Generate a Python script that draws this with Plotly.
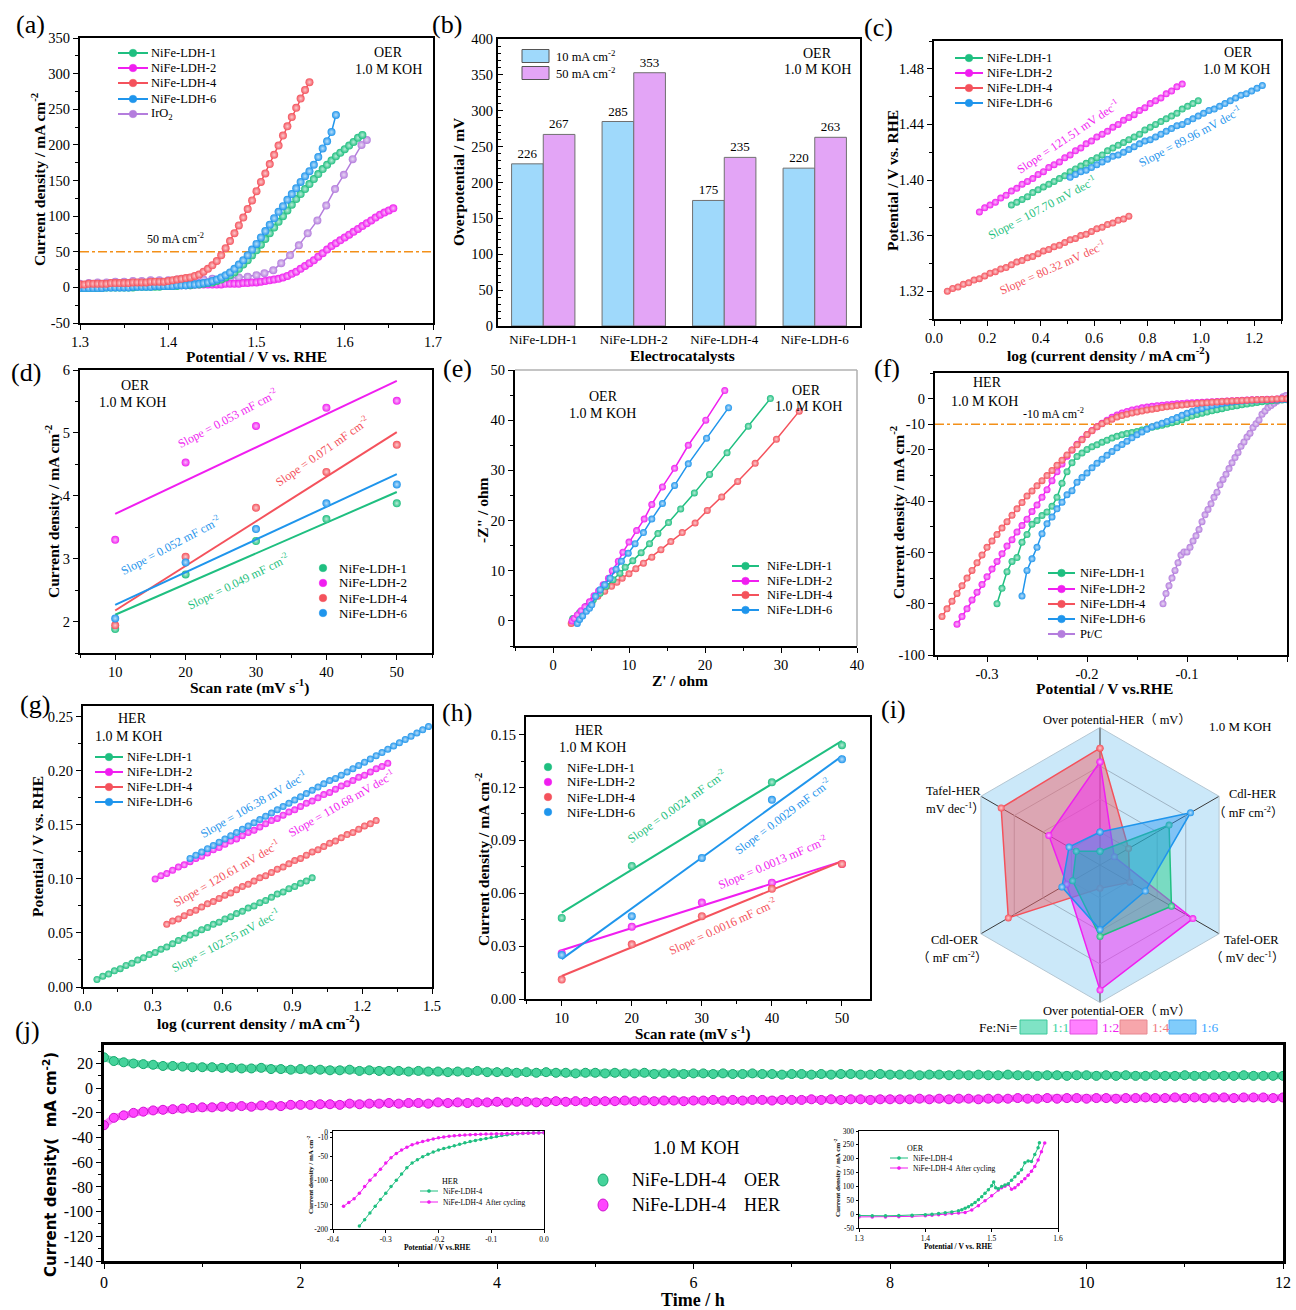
import numpy as np
import plotly.graph_objects as go

W, H = 1296, 1310
SERIF = "Liberation Serif"
SANS = "DejaVu Sans"
CJK = "Liberation Serif, Noto Sans CJK SC"

GREEN = "#1fbf80"
MAGENTA = "#f01ef0"
RED = "#f4525c"
BLUE = "#1f95ec"
PURPLE = "#b47ddd"
ORANGE = "#f39018"

# ---------------- (a) OER polarization ----------------
A_POT = [1.300, 1.305, 1.310, 1.315, 1.320, 1.325, 1.330, 1.335, 1.340, 1.345,
         1.350, 1.355, 1.360, 1.365, 1.370, 1.375, 1.380, 1.385, 1.390, 1.395,
         1.400, 1.405, 1.410, 1.415, 1.420, 1.425, 1.430, 1.435, 1.440, 1.445,
         1.450, 1.455, 1.460, 1.465, 1.470, 1.475, 1.480, 1.485, 1.490, 1.495,
         1.500, 1.505, 1.510, 1.515, 1.520, 1.525, 1.530, 1.535, 1.540, 1.545,
         1.550, 1.555, 1.560, 1.565, 1.570, 1.575, 1.580, 1.585, 1.590, 1.595,
         1.600, 1.605, 1.610, 1.615, 1.620, 1.625, 1.630, 1.635, 1.640, 1.645,
         1.650, 1.655]
A_LDH4 = [4, 4, 5, 5, 5, 5, 5, 6, 6, 6, 6, 6, 7, 7, 7, 7, 8, 8, 8, 8, 9,
          10, 11, 12, 13, 14, 16, 18, 22, 26,
          31, 37, 45, 55, 65, 76, 87, 98, 110, 122,
          135, 148, 160, 173, 186, 199, 213, 226, 239, 252,
          265, 277, 288]
A_LDH6 = [-1, -1, -1, -1, -1, -1, 0, 0, 0, 0, 0, 0, 1, 1, 1, 1, 1, 2, 2, 2, 2,
          2, 3, 3, 3, 4, 4, 5, 6, 7, 9,
          11, 14, 17, 21, 26, 32, 38, 45, 53, 61,
          70, 79, 88, 97, 106, 114, 123, 131, 139, 148,
          156, 163, 172, 183, 195, 205, 218, 242]
A_LDH1 = [-1, -1, -1, -1, -1, -1, 0, 0, 0, 0, 0, 0, 0, 1, 1, 1, 1, 1, 1, 2, 2,
          2, 2, 3, 3, 3, 4, 4, 5, 6, 7,
          9, 11, 14, 17, 21, 26, 32, 38, 45, 52,
          60, 68, 76, 84, 92, 100, 108, 116, 124, 131,
          138, 145, 152, 159, 166, 172, 178, 184, 189, 194,
          199, 204, 210, 214]
A_LDH2 = [2, 2, 2, 2, 2, 2, 2, 2, 2, 2, 3, 3, 3, 3, 3, 3, 3, 3, 3, 3, 3,
          3, 3, 3, 3, 3, 4, 4, 4, 4, 4,
          4, 4, 5, 5, 5, 5, 6, 6, 7, 7,
          8, 9, 10, 11, 12, 14, 16, 19, 22, 26,
          30, 34, 38, 43, 48, 53, 58, 62, 66, 70,
          74, 78, 82, 86, 90, 94, 98, 102, 105, 108, 111]
A_IRO2_POT = [1.30, 1.31, 1.32, 1.33, 1.34, 1.35, 1.36, 1.37, 1.38, 1.39, 1.40,
              1.41, 1.42, 1.43, 1.44, 1.45, 1.46, 1.47, 1.48, 1.49, 1.50,
              1.509, 1.519, 1.528, 1.538, 1.548, 1.558, 1.569, 1.579, 1.589,
              1.599, 1.609, 1.619, 1.625]
A_IRO2 = [5, 6, 7, 7, 8, 8, 9, 9, 10, 10, 10, 11, 11, 11, 11, 12, 12, 13, 14, 15, 17,
          20, 24, 34, 45, 59, 76, 94, 115, 138, 158, 180, 200, 207]
A_YTICKS = [-50, 0, 50, 100, 150, 200, 250, 300, 350]

# ---------------- (b) overpotentials ----------------
B_CATS = ["NiFe-LDH-1", "NiFe-LDH-2", "NiFe-LDH-4", "NiFe-LDH-6"]
B_10 = [226, 285, 175, 220]
B_50 = [267, 353, 235, 263]

# ---------------- (c) OER Tafel ----------------
C_LOGJ = [0.05, 0.07, 0.09, 0.11, 0.13, 0.15, 0.17, 0.19, 0.21, 0.23,
          0.25, 0.27, 0.29, 0.31, 0.33, 0.35, 0.37, 0.39, 0.41, 0.43,
          0.45, 0.47, 0.49, 0.51, 0.53, 0.55, 0.57, 0.59, 0.61, 0.63,
          0.65, 0.67, 0.69, 0.71, 0.73, 0.75, 0.77, 0.79, 0.81, 0.83,
          0.85, 0.87, 0.89, 0.91, 0.93, 0.95, 0.97, 0.99, 1.01, 1.03,
          1.05, 1.07, 1.09, 1.11, 1.13, 1.15, 1.17, 1.19, 1.21, 1.23]
C_LDH2 = [1.377, 1.380, 1.382, 1.384, 1.387, 1.389, 1.392, 1.394, 1.397, 1.399,
          1.401, 1.404, 1.406, 1.409, 1.411, 1.413, 1.416, 1.418, 1.421, 1.423,
          1.426, 1.428, 1.431, 1.433, 1.435, 1.438, 1.440, 1.443, 1.445, 1.447,
          1.450, 1.452, 1.455, 1.457, 1.459, 1.462, 1.464, 1.467, 1.469]
C_LDH1 = [1.382, 1.384, 1.386, 1.388, 1.391, 1.393, 1.395, 1.397, 1.399, 1.401,
          1.403, 1.406, 1.408, 1.410, 1.412, 1.414, 1.416, 1.418, 1.421, 1.423,
          1.425, 1.427, 1.429, 1.431, 1.433, 1.436, 1.438, 1.440, 1.442, 1.444,
          1.446, 1.448, 1.451, 1.453, 1.455, 1.457]
C_LDH6 = [1.402, 1.404, 1.406, 1.407, 1.409, 1.411, 1.413, 1.415, 1.417, 1.418,
          1.420, 1.422, 1.424, 1.426, 1.428, 1.429, 1.431, 1.433, 1.435, 1.437,
          1.439, 1.440, 1.442, 1.444, 1.446, 1.448, 1.450, 1.451, 1.453, 1.455,
          1.457, 1.459, 1.461, 1.462, 1.464, 1.466, 1.468]
C_LDH4 = [1.320, 1.322, 1.323, 1.325, 1.326, 1.328, 1.329, 1.331, 1.333, 1.334,
          1.336, 1.337, 1.339, 1.341, 1.342, 1.344, 1.345, 1.347, 1.349, 1.350,
          1.352, 1.353, 1.355, 1.357, 1.358, 1.360, 1.361, 1.363, 1.365, 1.366,
          1.368, 1.369, 1.371, 1.372, 1.374]

# ---------------- (d) OER Cdl ----------------
D_RATE = [10, 20, 30, 40, 50]
D_LDH1 = [1.88, 2.75, 3.28, 3.63, 3.88]
D_LDH2 = [3.30, 4.53, 5.11, 5.40, 5.51]
D_LDH4 = [1.94, 3.03, 3.81, 4.38, 4.81]
D_LDH6 = [2.05, 2.94, 3.47, 3.88, 4.18]

# ---------------- (e) Nyquist ----------------
E_LDH1_X = [2.6, 3.5, 4.4, 5.3, 6.2, 7.0, 7.9, 8.8, 9.5, 10.5, 11.6, 12.7, 13.8, 15.2, 16.8, 18.6, 20.6, 22.9, 25.7, 28.6]
E_LDH1_Y = [0.5, 1.7, 2.9, 4.2, 5.5, 6.9, 8.2, 9.5, 10.7, 12, 13.6, 15.4, 17.4, 19.6, 22.3, 25.5, 29.2, 33.5, 38.8, 44.3]
E_LDH2_X = [2.5, 2.8, 3.2, 3.7, 4.2, 4.8, 5.4, 6.0, 6.6, 7.3, 7.8, 8.6, 9.2, 10.0, 11.0, 12.0, 13.0, 14.4, 16.0, 17.8, 20.1, 22.6]
E_LDH2_Y = [0, 0.5, 1.2, 2, 2.8, 3.8, 5, 6, 7.2, 8.5, 10, 11.9, 13.7, 15.7, 18, 20.3, 23.2, 26.7, 30.4, 35, 40, 45.9]
E_LDH4_X = [2.4, 2.6, 3.3, 4.2, 5.1, 5.9, 6.8, 7.7, 8.4, 9.1, 10.0, 10.9, 11.9, 13.0, 14.2, 15.5, 17.0, 18.7, 20.3, 22.2, 24.3, 26.6, 29.4, 32.4]
E_LDH4_Y = [-0.5, 0.2, 1.2, 2.2, 3.5, 4.9, 5.9, 6.9, 7.7, 8.5, 9.4, 10.4, 11.5, 12.7, 14.2, 15.8, 17.6, 19.5, 22, 24.7, 27.8, 31.4, 36.2, 41.8]
E_LDH6_X = [3.2, 3.5, 3.9, 4.4, 4.8, 5.1, 5.6, 6.2, 6.8, 7.5, 8.3, 9.0, 9.9, 10.8, 11.9, 13.0, 14.4, 16.0, 17.8, 20.2, 23.1]
E_LDH6_Y = [-0.5, 0.3, 1, 1.9, 2.5, 3.2, 4.9, 6.2, 7.2, 8.5, 10.3, 11.9, 13.5, 15.4, 17.6, 20.3, 23.4, 27, 31.3, 36.4, 42.5]

# ---------------- (f) HER polarization ----------------
F_POT = [-0.345, -0.340, -0.335, -0.330, -0.325, -0.320, -0.315, -0.310, -0.305, -0.300,
         -0.295, -0.290, -0.285, -0.280, -0.275, -0.270, -0.265, -0.260, -0.255, -0.250,
         -0.245, -0.240, -0.235, -0.230, -0.225, -0.220, -0.215, -0.210, -0.205, -0.200,
         -0.195, -0.190, -0.185, -0.180, -0.175, -0.170, -0.165, -0.160, -0.155, -0.150,
         -0.145, -0.140, -0.135, -0.130, -0.125, -0.120, -0.115, -0.110, -0.105, -0.100,
         -0.095, -0.090, -0.085, -0.080, -0.075, -0.070, -0.065, -0.060, -0.055, -0.050,
         -0.045, -0.040, -0.035, -0.030, -0.025, -0.020, -0.015, -0.010, -0.005, 0.000]
F_LDH4 = [-85, -82, -79, -76, -73, -70, -67, -64, -61, -58,
          -55.5, -53, -50.5, -48, -45.5, -43, -40.5, -38, -36, -34,
          -32, -30, -28, -26, -24, -22, -20, -18, -16, -14,
          -12.5, -11, -9.8, -8.8, -8, -7.2, -6.6, -6.1, -5.6, -5.2,
          -4.8, -4.4, -4.1, -3.8, -3.5, -3.2, -3, -2.7, -2.5, -2.3,
          -2.1, -1.9, -1.7, -1.6, -1.4, -1.3, -1.1, -1, -0.9, -0.8,
          -0.7, -0.6, -0.5, -0.4, -0.3, -0.3, -0.2, -0.1, 0, 0]
F_LDH2 = [-88, -85, -82, -78.5, -75.5, -72.5, -69.5, -66.5, -63.5, -60.5,
          -57.5, -55, -52, -49.5, -47, -44, -41.5, -38.5, -35.5, -32,
          -28.5, -25.5, -22.5, -20, -17.8, -15.8, -14, -12.4, -11, -9.6,
          -8.4, -7.3, -6.4, -5.6, -5, -4.4, -4, -3.6, -3.3, -3,
          -2.8, -2.6, -2.4, -2.2, -2, -1.9, -1.7, -1.6, -1.5, -1.4,
          -1.3, -1.2, -1.1, -1, -0.9, -0.8, -0.7, -0.6, -0.5, -0.4,
          -0.4, -0.3, -0.2, -0.2, -0.1, 0, 0]
F_LDH1 = [-80, -74, -67.5, -63.5, -62, -56, -53, -49, -47.5, -45.6,
          -44.2, -42, -38.5, -33, -28.5, -25, -22.6, -21.2, -19.8, -18.8,
          -18, -17, -16.2, -15.4, -14.7, -14.1, -13.6, -13.2, -12.8, -12.2,
          -11.7, -11.2, -10.8, -10.4, -9.9, -9.4, -8.9, -8.2, -7.5, -6.8,
          -6.2, -5.7, -5.2, -4.7, -4.3, -3.9, -3.5, -3.1, -2.8, -2.4,
          -2.1, -1.8, -1.5, -1.2, -1, -0.8, -0.6, -0.5, -0.4]
F_LDH6 = [-77, -67, -62.5, -58, -52.7, -48.8, -46.2, -43, -40.4, -37.5,
          -35.9, -32.6, -30.8, -29, -27, -25.2, -23.6, -22.1, -20.6, -19.2,
          -17.9, -16.6, -15.3, -14.1, -13, -11.9, -11, -10.3, -9.6, -8.9,
          -8.1, -7.4, -6.5, -5.7, -5, -4.4, -3.8, -3.2, -2.7, -2.3,
          -1.9, -1.6, -1.3, -1.1, -0.9, -0.7, -0.6, -0.5, -0.4, -0.4,
          -0.3, -0.3, -0.3, -0.3]
F_PTC_POT = [-0.124, -0.121, -0.118, -0.115, -0.112, -0.109, -0.106, -0.103, -0.100, -0.097,
             -0.094, -0.091, -0.088, -0.085, -0.082, -0.079, -0.076, -0.073, -0.070, -0.067,
             -0.064, -0.061, -0.058, -0.055, -0.052, -0.049, -0.046, -0.043, -0.040, -0.037,
             -0.034, -0.031, -0.028, -0.025, -0.022, -0.019, -0.016, -0.013, -0.010, -0.007,
             -0.004, -0.001]
F_PTC = [-80, -76, -73, -70, -67, -64, -61, -59.8, -59.8, -58,
         -55.5, -53.5, -51, -48, -45.3, -43.2, -41, -38.5, -36.5, -33.6,
         -31.5, -29.5, -27.3, -25, -23, -21, -18.6, -16.9, -15, -13.5,
         -11.3, -9.8, -8.3, -6.1, -4.8, -3.5, -2.7, -1.8, -1, -0.1,
         0.7, 1.2]
F_XTICKS = [-0.3, -0.2, -0.1, 0.0]
F_YTICKS = [0, -10, -20, -40, -60, -80, -100]

# ---------------- (g) HER Tafel ----------------
G_LOGJ = [0.060, 0.085, 0.110, 0.135, 0.160, 0.185, 0.210, 0.235, 0.260, 0.285,
          0.310, 0.335, 0.360, 0.385, 0.410, 0.435, 0.460, 0.485, 0.510, 0.535,
          0.560, 0.585, 0.610, 0.635, 0.660, 0.685, 0.710, 0.735, 0.760, 0.785,
          0.810, 0.835, 0.860, 0.885, 0.910, 0.935, 0.960, 0.985, 1.010, 1.035,
          1.060, 1.085, 1.110, 1.135, 1.160, 1.185, 1.210, 1.235, 1.260, 1.285,
          1.310, 1.335, 1.360, 1.385, 1.410, 1.435, 1.460, 1.485]
G_LDH1 = [0.007, 0.010, 0.012, 0.015, 0.017, 0.020, 0.022, 0.025, 0.027, 0.030,
          0.032, 0.035, 0.037, 0.040, 0.043, 0.045, 0.048, 0.050, 0.053, 0.055,
          0.058, 0.060, 0.063, 0.065, 0.068, 0.070, 0.073, 0.075, 0.078, 0.080,
          0.083, 0.086, 0.088, 0.091, 0.093, 0.096, 0.098, 0.101]
G_LDH2 = [0.100, 0.103, 0.105, 0.108, 0.111, 0.113, 0.116, 0.119, 0.121, 0.124,
          0.127, 0.129, 0.132, 0.135, 0.137, 0.140, 0.143, 0.145, 0.148, 0.151,
          0.154, 0.156, 0.159, 0.162, 0.164, 0.167, 0.170, 0.172, 0.175, 0.178,
          0.180, 0.183, 0.186, 0.188, 0.191, 0.194, 0.196, 0.199, 0.202, 0.204, 0.207]
G_LDH4 = [0.058, 0.061, 0.063, 0.066, 0.069, 0.071, 0.074, 0.077, 0.079, 0.082,
          0.085, 0.087, 0.090, 0.093, 0.095, 0.098, 0.101, 0.103, 0.106, 0.109,
          0.111, 0.114, 0.117, 0.119, 0.122, 0.125, 0.127, 0.130, 0.133, 0.135,
          0.138, 0.141, 0.143, 0.146, 0.149, 0.151, 0.154]
G_LDH6 = [0.119, 0.122, 0.125, 0.128, 0.131, 0.134, 0.137, 0.140, 0.143, 0.146,
          0.149, 0.152, 0.155, 0.158, 0.161, 0.164, 0.167, 0.170, 0.173, 0.176,
          0.179, 0.182, 0.185, 0.188, 0.191, 0.193, 0.196, 0.199, 0.202, 0.205,
          0.208, 0.211, 0.214, 0.217, 0.220, 0.223, 0.226, 0.229, 0.232, 0.235,
          0.238, 0.241]

# ---------------- (h) HER Cdl ----------------
H_RATE = [10, 20, 30, 40, 50]
H_LDH1 = [0.046, 0.0755, 0.100, 0.123, 0.144]
H_LDH2 = [0.026, 0.041, 0.0547, 0.066, 0.0766]
H_LDH4 = [0.011, 0.031, 0.047, 0.0625, 0.0766]
H_LDH6 = [0.025, 0.047, 0.080, 0.113, 0.136]

# ---------------- (i) radar (normalised) ----------------
I_AXES = ["Over potential-HER", "Cdl-HER", "Tafel-OER", "Over potential-OER", "Cdl-OER", "Tafel-HER"]
I_11 = [0.10, 0.58, 0.60, 0.52, 0.23, 0.20]
I_12 = [0.75, 0.12, 0.78, 0.91, 0.28, 0.43]
I_14 = [0.85, 0.24, 0.25, 0.17, 0.77, 0.83]
I_16 = [0.24, 0.76, 0.38, 0.47, 0.32, 0.26]

# ---------------- (j) stability ----------------
J_TIME = [0.0, 0.1, 0.2, 0.3, 0.4, 0.5, 0.6, 0.7, 0.8, 0.9,
          1.0, 1.1, 1.2, 1.3, 1.4, 1.5, 1.6, 1.7, 1.8, 1.9,
          2.0, 2.1, 2.2, 2.3, 2.4, 2.5, 2.6, 2.7, 2.8, 2.9,
          3.0, 3.1, 3.2, 3.3, 3.4, 3.5, 3.6, 3.7, 3.8, 3.9,
          4.0, 4.1, 4.2, 4.3, 4.4, 4.5, 4.6, 4.7, 4.8, 4.9,
          5.0, 5.1, 5.2, 5.3, 5.4, 5.5, 5.6, 5.7, 5.8, 5.9,
          6.0, 6.1, 6.2, 6.3, 6.4, 6.5, 6.6, 6.7, 6.8, 6.9,
          7.0, 7.1, 7.2, 7.3, 7.4, 7.5, 7.6, 7.7, 7.8, 7.9,
          8.0, 8.1, 8.2, 8.3, 8.4, 8.5, 8.6, 8.7, 8.8, 8.9,
          9.0, 9.1, 9.2, 9.3, 9.4, 9.5, 9.6, 9.7, 9.8, 9.9,
          10.0, 10.1, 10.2, 10.3, 10.4, 10.5, 10.6, 10.7, 10.8, 10.9,
          11.0, 11.1, 11.2, 11.3, 11.4, 11.5, 11.6, 11.7, 11.8, 11.9,
          12.0]
J_OER = [25, 22, 21, 20, 19.5, 19, 18, 18, 17.5, 17, 17,
         17, 16.5, 16.5, 16, 16, 16.5, 15.5, 15.5, 15, 15.5,
         15, 15, 14.5, 14.5, 15, 14, 14.5, 14, 14, 14,
         13.5, 14, 13.5, 13.5, 13, 13.5, 13, 14, 13, 13,
         13, 12.5, 13, 12.5, 13, 12.5, 12.5, 12, 12.5, 12.5,
         12, 12.5, 12, 12, 12.5, 11.5, 12, 12, 11.5, 12,
         12, 11.5, 12, 11.5, 11.5, 12, 11.5, 11.5, 11, 11.5,
         11.5, 11, 11.5, 11, 11.5, 11.5, 11, 11, 11.5, 11,
         11, 11, 10.5, 11, 11, 10.5, 11, 10.5, 11, 10.5,
         10.5, 11, 10.5, 10.5, 10, 10.5, 10.5, 10, 10.5, 10.5,
         10, 10.5, 10, 10.5, 10, 10, 10.5, 10, 10, 10.5,
         10, 10, 10.5, 10, 10, 10.5, 10, 10, 10, 10]
J_HER = [-30, -24, -22, -20, -19, -18, -17.5, -17, -16.5, -16, -15.5,
         -15.5, -15, -15, -14.5, -15, -14, -14, -14.5, -13.5, -13.5,
         -13.5, -13, -13, -13.5, -12.5, -13, -12.5, -12.5, -12, -12.5,
         -12, -12, -12.5, -11.5, -12, -11.5, -12, -11.5, -11.5, -11,
         -11.5, -11, -11, -11.5, -11, -10.5, -11, -10.5, -11, -10.5,
         -10.5, -10.5, -10, -10.5, -10, -10.5, -10, -10, -10.5, -10,
         -10, -9.5, -10, -9.5, -10, -9.5, -9.5, -10, -9.5, -9.5,
         -9.5, -9, -9.5, -9, -9.5, -9, -9, -9.5, -9, -9,
         -9, -9, -8.5, -9, -8.5, -9, -8.5, -8.5, -9, -8.5,
         -8.5, -8.5, -8, -8.5, -8.5, -8, -8.5, -8, -8, -8.5,
         -8, -8, -8.5, -8, -8, -7.5, -8, -8, -7.5, -8,
         -7.5, -8, -7.5, -7.5, -8, -7.5, -7.5, -7.5, -8, -7.5]
J_YTICKS = [20, 0, -20, -40, -60, -80, -100, -120, -140]
# insets
JH_POT = [-0.38, -0.37, -0.36, -0.35, -0.34, -0.33, -0.32, -0.31, -0.30, -0.29,
          -0.28, -0.27, -0.26, -0.25, -0.24, -0.23, -0.22, -0.21, -0.20, -0.19,
          -0.18, -0.17, -0.16, -0.15, -0.14, -0.13, -0.12, -0.11, -0.10, -0.09,
          -0.08, -0.07, -0.06, -0.05, -0.04, -0.03, -0.02, -0.01, 0.00]
JH_FRESH = [-194, -181, -167, -153, -139, -126, -112, -99, -86, -73,
            -63, -56, -50, -45, -40, -36, -33, -30, -27, -24,
            -21, -18.5, -16, -14, -12, -10, -8, -6, -4.5, -3.3,
            -2.3, -1.5, -0.9, -0.5, -0.2, 0]
JH_CYCLED = [-153, -145, -137, -126, -112, -99, -88, -76, -63, -52,
             -43, -36, -30, -25, -21.5, -18.5, -15.5, -13, -10.5, -9,
             -7.5, -6.4, -5.5, -4.8, -4.2, -3.7, -3.3, -2.9, -2.6, -2.3,
             -2, -1.8, -1.6, -1.4, -1.2, -1, -0.7, -0.4, 0]
JH_XTICKS = [-0.4, -0.3, -0.2, -0.1, 0.0]
JH_YTICKS = [0, -10, -50, -100, -150, -200]
JO_POT_FRESH = [1.30, 1.32, 1.34, 1.36, 1.38, 1.40, 1.41, 1.42, 1.43, 1.44, 1.45,
                1.455, 1.46, 1.465, 1.47, 1.475, 1.48, 1.485, 1.49, 1.495, 1.50,
                1.503, 1.506, 1.51, 1.515, 1.52, 1.525, 1.53, 1.535, 1.54, 1.545,
                1.55, 1.555, 1.56, 1.565, 1.57, 1.572]
JO_FRESH = [-5, -6, -6, -5, -4, -2, 0, 2, 5, 8, 12,
            16, 21, 27, 34, 42, 52, 63, 75, 88, 102,
            116, 95, 92, 100, 105, 110, 122, 135, 148, 160,
            185, 192, 190, 215, 240, 258]
JO_POT_CYCLED = [1.30, 1.32, 1.34, 1.36, 1.38, 1.40, 1.41, 1.42, 1.43, 1.44, 1.45,
                 1.46, 1.47, 1.48, 1.49, 1.50, 1.51, 1.515, 1.52, 1.525, 1.53,
                 1.535, 1.54, 1.545, 1.55, 1.555, 1.56, 1.565, 1.57, 1.575, 1.58]
JO_CYCLED = [-10, -10, -10, -9, -8, -6, -4, -2, 0, 2, 4,
             6, 15, 30, 48, 66, 87, 95, 101, 107, 90,
             95, 106, 117, 128, 140, 155, 172, 195, 225, 257]
JO_YTICKS = [-50, 0, 50, 100, 150, 200, 250, 300]


# ======================================================================
def X(px):
    return px / W


def Y(py):
    return 1 - py / H


def tint(c, f=0.6):
    c = c.lstrip("#")
    r, g, b = (int(c[i:i + 2], 16) for i in (0, 2, 4))
    return "rgb(%d,%d,%d)" % (r + (255 - r) * f, g + (255 - g) * f, b + (255 - b) * f)


fig = go.Figure()
shapes, annos, axes = [], [], {}


def ref(n, k):
    return k if n == 1 else f"{k}{n}"


def aname(n, k):
    return f"{k}axis" if n == 1 else f"{k}axis{n}"


def set_axes(n, box, xr, yr, xd=None, yd=None, xm=None, ym=None, xfmt=None, yfmt=None,
             xvals=None, yvals=None, ticks="outside", tfs=14.5, lw=2, tl=5, mtl=3, mirror=True, xcat=False,
             family=SERIF):
    x0, x1, y0, y1 = box

    def base():
        return dict(showline=True, linecolor="black", linewidth=lw, mirror=mirror, ticks=ticks,
                    ticklen=tl, tickwidth=1.3, tickcolor="black", showgrid=False, zeroline=False,
                    automargin=False, tickfont=dict(family=family, size=tfs, color="black"))
    xa = base()
    xa.update(domain=[X(x0), X(x1)], range=xr, anchor=ref(n, "y"))
    ya = base()
    ya.update(domain=[Y(y1), Y(y0)], range=yr, anchor=ref(n, "x"))
    if xcat:
        xa.update(type="category", ticks="")
    if xd is not None:
        xa["dtick"] = xd
    if yd is not None:
        ya["dtick"] = yd
    # explicit tick labels keep the plain hyphen-minus of the original figure
    if xvals is not None:
        xa.update(tickmode="array", tickvals=xvals, ticktext=[format(v, xfmt or "g") for v in xvals])
    if yvals is not None:
        ya.update(tickmode="array", tickvals=yvals, ticktext=[format(v, yfmt or "g") for v in yvals])
    if xm:
        xa["minor"] = dict(dtick=xm, ticks=ticks, ticklen=mtl, tickwidth=1, tickcolor="black", showgrid=False)
    if ym:
        ya["minor"] = dict(dtick=ym, ticks=ticks, ticklen=mtl, tickwidth=1, tickcolor="black", showgrid=False)
    if xfmt and xvals is None:
        xa["tickformat"] = xfmt
    if yfmt and yvals is None:
        ya["tickformat"] = yfmt
    axes[aname(n, "x")] = xa
    axes[aname(n, "y")] = ya


def curve(n, x, y, color, size=7, lw=1.5, mode="lines+markers", grad=True):
    mk = dict(size=size, color=color, line=dict(width=0))
    if grad:
        mk["gradient"] = dict(type="radial", color=tint(color, 0.7))
    fig.add_trace(go.Scatter(x=x, y=y, mode=mode, xaxis=ref(n, "x"), yaxis=ref(n, "y"),
                             line=dict(color=color, width=lw), marker=mk,
                             showlegend=False, hoverinfo="skip"))


def text(t, x, y, size=14, color="black", angle=0, anchor="center", family=SERIF):
    annos.append(dict(text=t, x=X(x), y=Y(y), xref="paper", yref="paper", showarrow=False,
                      xanchor=anchor, yanchor="middle", textangle=angle,
                      font=dict(family=family, size=size, color=color)))


def legend(items, x0, x1, xt, ys, size=12.5, line=True, r=3.8, lw=2):
    for (label, color), y in zip(items, ys):
        if line:
            shapes.append(dict(type="line", xref="paper", yref="paper", x0=X(x0), x1=X(x1),
                               y0=Y(y), y1=Y(y), line=dict(color=color, width=lw)))
        cx = (x0 + x1) / 2 if line else x0
        shapes.append(dict(type="circle", xref="paper", yref="paper", x0=X(cx - r), x1=X(cx + r),
                           y0=Y(y + r), y1=Y(y - r), fillcolor=color, line=dict(color=color, width=0.5)))
        text(label, xt, y, size=size, anchor="left")


def hline(n, yv, width=1.5):
    shapes.append(dict(type="line", xref=f"{ref(n, 'x')} domain", x0=0, x1=1, yref=ref(n, "y"),
                       y0=yv, y1=yv, line=dict(color=ORANGE, width=width, dash="dashdot"), layer="below"))


def seg(grid, start, ys):
    return grid[start:start + len(ys)]


LDH_NAMES = ["NiFe-LDH-1", "NiFe-LDH-2", "NiFe-LDH-4", "NiFe-LDH-6"]
LDH_COLORS = [GREEN, MAGENTA, RED, BLUE]

# ----- (a)
set_axes(1, (80, 433, 38, 323), [1.3, 1.7], [-50, 350], xd=0.1, xm=0.05, ym=25, xfmt=".1f", yvals=A_YTICKS)
hline(1, 50)
curve(1, A_IRO2_POT, A_IRO2, PURPLE, size=8)
curve(1, seg(A_POT, 0, A_LDH2), A_LDH2, MAGENTA, size=8)
curve(1, seg(A_POT, 0, A_LDH1), A_LDH1, GREEN, size=8)
curve(1, seg(A_POT, 0, A_LDH6), A_LDH6, BLUE, size=8)
curve(1, seg(A_POT, 0, A_LDH4), A_LDH4, RED, size=8)
legend(list(zip(LDH_NAMES + ["IrO<sub>2</sub>"], LDH_COLORS + [PURPLE])), 118, 148, 149, [53, 68, 83, 99, 114])
text("OER", 388, 52)
text("1.0 M KOH", 388, 70)
text("50 mA cm<sup>-2</sup>", 175, 238, size=12)
text("<b>Potential / V vs. RHE</b>", 256, 356, size=15.5)
text("<b>Current density / mA cm<sup>-2</sup></b>", 38, 180, size=15.5, angle=-90)

# ----- (b)
set_axes(2, (498, 860, 39, 326), [-0.5, 3.5], [0, 400], yd=50, ym=10, ticks="inside", xcat=True, tl=5, mtl=3)
axes["xaxis2"]["tickfont"] = dict(family=SERIF, size=13, color="black")
fig.add_trace(go.Bar(x=B_CATS, y=B_10, xaxis="x2", yaxis="y2", marker=dict(color="#9fd9fb", line=dict(color="#707070", width=1)),
                     text=B_10, textposition="outside", textfont=dict(family=SERIF, size=13, color="black"),
                     cliponaxis=False, showlegend=False, hoverinfo="skip"))
fig.add_trace(go.Bar(x=B_CATS, y=B_50, xaxis="x2", yaxis="y2", marker=dict(color="#e3a5f6", line=dict(color="#707070", width=1)),
                     text=B_50, textposition="outside", textfont=dict(family=SERIF, size=13, color="black"),
                     cliponaxis=False, showlegend=False, hoverinfo="skip"))
for (lab, col), yy in zip([("10 mA cm<sup>-2</sup>", "#9fd9fb"), ("50 mA cm<sup>-2</sup>", "#e3a5f6")], [56, 73]):
    shapes.append(dict(type="rect", xref="paper", yref="paper", x0=X(522), x1=X(549), y0=Y(yy + 6.5), y1=Y(yy - 6.5),
                       fillcolor=col, line=dict(color="#555", width=1)))
    text(lab, 554, yy, size=12.5, anchor="left")
text("OER", 817, 53)
text("1.0 M KOH", 817, 70)
text("<b>Electrocatalysts</b>", 682, 355, size=15.5)
text("<b>Overpotential / mV</b>", 459, 182, size=15.5, angle=-90)

# ----- (c)
set_axes(3, (934, 1281, 41, 319), [0, 1.3], [1.30, 1.50], xd=0.2, xm=0.1, yvals=[1.32, 1.36, 1.40, 1.44, 1.48],
         ym=0.02, xfmt=".1f", yfmt=".2f")
curve(3, seg(C_LOGJ, 0, C_LDH4), C_LDH4, RED)
curve(3, seg(C_LOGJ, 12, C_LDH1), C_LDH1, GREEN)
curve(3, seg(C_LOGJ, 23, C_LDH6), C_LDH6, BLUE)
curve(3, seg(C_LOGJ, 6, C_LDH2), C_LDH2, MAGENTA)
legend(list(zip(LDH_NAMES, LDH_COLORS)), 955, 983, 985, [58, 73, 88, 103])
text("OER", 1238, 52)
text("1.0 M KOH", 1236, 70)
for t, c, x, y, a in [("Slope = 121.51 mV dec<sup>-1</sup>", MAGENTA, 1068, 137, -34),
                      ("Slope = 107.70 mV dec<sup>-1</sup>", GREEN, 1042, 208, -28),
                      ("Slope = 89.96 mV dec<sup>-1</sup>", BLUE, 1190, 137, -28),
                      ("Slope = 80.32 mV dec<sup>-1</sup>", RED, 1052, 267, -24)]:
    text(t, x, y, size=12, color=c, angle=a)
text("<b>log (current density / mA cm<sup>-2</sup>)</b>", 1108, 354, size=15.5)
text("<b>Potential / V vs. RHE</b>", 892, 180, size=15.5, angle=-90)

# ----- (d)
set_axes(4, (80, 432, 370, 653), [5, 55], [1.5, 6], xd=10, yd=1, xm=5, ym=0.5)
for ys, col in zip([D_LDH1, D_LDH2, D_LDH4, D_LDH6], LDH_COLORS):
    k, b = np.polyfit(D_RATE, ys, 1)
    fit = [k * D_RATE[0] + b, k * D_RATE[-1] + b]
    curve(4, [D_RATE[0], D_RATE[-1]], fit, col, mode="lines", lw=2)
    curve(4, D_RATE, ys, col, mode="markers", size=8)
legend(list(zip(LDH_NAMES, LDH_COLORS)), 323, 323, 337, [568, 583, 598, 613], size=13, line=False)
text("OER", 135, 385)
text("1.0 M KOH", 132, 403)
for t, c, x, y, a in [("Slope = 0.053 mF cm<sup>-2</sup>", MAGENTA, 227, 418, -28),
                      ("Slope = 0.071 mF cm<sup>-2</sup>", RED, 322, 452, -35),
                      ("Slope = 0.052 mF cm<sup>-2</sup>", BLUE, 170, 545, -28),
                      ("Slope = 0.049 mF cm<sup>-2</sup>", GREEN, 238, 582, -26)]:
    text(t, x, y, size=12, color=c, angle=a)
text("<b>Scan rate (mV s<sup>-1</sup>)</b>", 249, 686, size=15.5)
text("<b>Current density / mA cm<sup>-2</sup></b>", 52, 512, size=15.5, angle=-90)

# ----- (e)
set_axes(5, (515, 857, 370, 646), [-5, 40], [-5, 50], xd=10, yd=10, xm=5, ym=5, mirror=False)
shapes.append(dict(type="line", xref="paper", yref="paper", x0=X(515), x1=X(857), y0=Y(370), y1=Y(370),
                   line=dict(color="#b0b0b0", width=1.5)))
shapes.append(dict(type="line", xref="paper", yref="paper", x0=X(857), x1=X(857), y0=Y(646), y1=Y(370),
                   line=dict(color="#b0b0b0", width=1.5)))
curve(5, E_LDH4_X, E_LDH4_Y, RED)
curve(5, E_LDH1_X, E_LDH1_Y, GREEN)
curve(5, E_LDH2_X, E_LDH2_Y, MAGENTA)
curve(5, E_LDH6_X, E_LDH6_Y, BLUE)
legend(list(zip(LDH_NAMES, LDH_COLORS)), 732, 759, 765, [566, 581, 595, 610], size=12.5)
text("OER", 603, 397)
text("1.0 M KOH", 602, 413)
text("OER", 806, 391)
text("1.0 M KOH", 808, 407)
text("<b>Z' / ohm</b>", 680, 680, size=15.5)
text('<b>-Z" / ohm</b>', 482, 510, size=15.5, angle=-90)

# ----- (f)
set_axes(6, (935, 1287, 373, 655), [-0.352, 0.0], [-100, 10], xm=0.05, xfmt=".1f", xvals=F_XTICKS,
         yvals=F_YTICKS, ym=10)
hline(6, -10)
curve(6, F_PTC_POT, F_PTC, PURPLE)
curve(6, seg(F_POT, 11, F_LDH1), F_LDH1, GREEN)
curve(6, seg(F_POT, 16, F_LDH6), F_LDH6, BLUE)
curve(6, seg(F_POT, 3, F_LDH2), F_LDH2, MAGENTA)
curve(6, seg(F_POT, 0, F_LDH4), F_LDH4, RED)
legend(list(zip(LDH_NAMES + ["Pt/C"], LDH_COLORS + [PURPLE])), 1048, 1075, 1078, [573, 589, 604, 619, 634])
text("HER", 987, 383)
text("1.0 M KOH", 984, 401)
text("-10 mA cm<sup>-2</sup>", 1053, 413, size=12)
text("<b>Potential / V vs.RHE</b>", 1104, 689, size=15.5)
text("<b>Current density / mA cm<sup>-2</sup></b>", 897, 513, size=15.5, angle=-90)

# ----- (g)
set_axes(7, (83, 432, 706, 987), [0, 1.5], [0, 0.26], xd=0.3, yd=0.05, xm=0.15, ym=0.025, xfmt=".1f", yfmt=".2f")
curve(7, seg(G_LOGJ, 0, G_LDH1), G_LDH1, GREEN)
curve(7, seg(G_LOGJ, 12, G_LDH4), G_LDH4, RED)
curve(7, seg(G_LOGJ, 10, G_LDH2), G_LDH2, MAGENTA)
curve(7, seg(G_LOGJ, 16, G_LDH6), G_LDH6, BLUE)
legend(list(zip(LDH_NAMES, LDH_COLORS)), 95, 123, 125, [757, 772, 787, 802])
text("HER", 132, 718)
text("1.0 M KOH", 128, 736)
for t, c, x, y, a in [("Slope = 106.38 mV dec<sup>-1</sup>", BLUE, 253, 804, -30),
                      ("Slope = 110.68 mV dec<sup>-1</sup>", MAGENTA, 341, 803, -30),
                      ("Slope = 120.61 mV dec<sup>-1</sup>", RED, 226, 873, -30),
                      ("Slope = 102.55 mV dec<sup>-1</sup>", GREEN, 225, 940, -28)]:
    text(t, x, y, size=12, color=c, angle=a)
text("<b>log (current density / mA cm<sup>-2</sup>)</b>", 258, 1022, size=15.5)
text("<b>Potential / V vs. RHE</b>", 37, 847, size=15.5, angle=-90)

# ----- (h)
set_axes(8, (526, 870, 717, 999), [4.9, 54], [0, 0.16], xd=10, yd=0.03, xm=5, ym=0.015, yfmt=".2f")
for ys, col in zip([H_LDH1, H_LDH2, H_LDH4, H_LDH6], LDH_COLORS):
    k, b = np.polyfit(H_RATE, ys, 1)
    fit = [k * H_RATE[0] + b, k * H_RATE[-1] + b]
    curve(8, [H_RATE[0], H_RATE[-1]], fit, col, mode="lines", lw=2)
    curve(8, H_RATE, ys, col, mode="markers", size=8)
legend(list(zip(LDH_NAMES, LDH_COLORS)), 548, 548, 565, [767, 782, 797, 812], size=13, line=False)
text("HER", 589, 730)
text("1.0 M KOH", 592, 747)
for t, c, x, y, a in [("Slope = 0.0024 mF cm<sup>-2</sup>", GREEN, 676, 806, -35),
                      ("Slope = 0.0029 mF cm<sup>-2</sup>", BLUE, 782, 816, -37),
                      ("Slope = 0.0013 mF cm<sup>-2</sup>", MAGENTA, 772, 862, -23),
                      ("Slope = 0.0016 mF cm<sup>-2</sup>", RED, 722, 926, -25)]:
    text(t, x, y, size=12, color=c, angle=a)
text("<b>Scan rate (mV s<sup>-1</sup>)</b>", 693, 1033, size=15)
text("<b>Current density / mA cm<sup>-2</sup></b>", 482, 860, size=15.5, angle=-90)

# ----- (i) radar
for vals, col, fill in [(I_14, RED, "rgba(238,100,110,0.50)"),
                        (I_12, MAGENTA, "rgba(245,40,245,0.50)"),
                        (I_11, GREEN, "rgba(40,205,140,0.50)"),
                        (I_16, BLUE, "rgba(40,150,240,0.45)")]:
    fig.add_trace(go.Scatterpolar(r=vals + [vals[0]], theta=I_AXES + [I_AXES[0]], mode="lines+markers",
                                  fill="toself", fillcolor=fill, line=dict(color=col, width=1.5),
                                  marker=dict(size=7, color=col, gradient=dict(type="radial", color=tint(col, 0.7))),
                                  showlegend=False, hoverinfo="skip"))
polar = dict(domain=dict(x=[X(962.5), X(1237.5)], y=[Y(1002.5), Y(727.5)]), bgcolor="#cbe8f9", gridshape="linear",
             angularaxis=dict(categoryorder="array", categoryarray=I_AXES, rotation=90, direction="clockwise",
                              showticklabels=False, ticks="", gridcolor="#3a3a3a", gridwidth=1,
                              linecolor="#b5c7d3", linewidth=1, showline=True),
             radialaxis=dict(range=[0, 1], showticklabels=False, ticks="", showline=False,
                             gridcolor="#9fb4c4", gridwidth=0.8, tickvals=[0.24, 0.48, 0.72]))
for t, x, y in [("Over potential-HER（ mV）", 1117, 720), ("Cdl-HER", 1253, 794), ("（ mF cm<sup>-2</sup>）", 1248, 812),
                ("Tafel-OER", 1251, 940), ("（ mV dec<sup>-1</sup>）", 1247, 957),
                ("Over potential-OER（ mV）", 1117, 1011), ("Cdl-OER", 955, 940), ("（ mF cm<sup>-2</sup>）", 952, 957),
                ("Tafel-HER", 953, 791), ("mV dec<sup>-1</sup>）", 955, 808)]:
    text(t, x, y, size=12.5, family=CJK)
text("1.0 M KOH", 1240, 726, size=13)
text("Fe:Ni=", 998, 1027, size=13.5)
for lab, x0, fill, edge, tc in [("1:1", 1020, "#7fe3c5", "#3cc99a", "#3cd3a0"),
                                ("1:2", 1070, "#ff80ff", "#e050e0", MAGENTA),
                                ("1:4", 1120, "#f7a6ab", "#e88890", "#f07a80"),
                                ("1:6", 1169, "#80ccfb", "#4aa8ee", "#3aa4ff")]:
    shapes.append(dict(type="rect", xref="paper", yref="paper", x0=X(x0), x1=X(x0 + 27), y0=Y(1034), y1=Y(1020),
                       fillcolor=fill, line=dict(color=edge, width=1)))
    text(lab, x0 + 30, 1027, size=13.5, color=tc, anchor="left")

# ----- (j) stability
set_axes(9, (104, 1283, 1045, 1261), [0, 12], [-140, 35], xd=2, xm=1, ym=10, yvals=J_YTICKS, tfs=16, lw=2.5)
fig.add_trace(go.Scatter(x=J_TIME, y=J_OER, mode="lines+markers", xaxis="x9", yaxis="y9",
                         line=dict(color="#6fdcb0", width=7),
                         marker=dict(size=9, color="#45d39b", line=dict(color="#16a86e", width=1)),
                         showlegend=False, hoverinfo="skip"))
fig.add_trace(go.Scatter(x=J_TIME, y=J_HER, mode="lines+markers", xaxis="x9", yaxis="y9",
                         line=dict(color="#ff7aff", width=7),
                         marker=dict(size=9, color="#ff45ff", line=dict(color="#d010d0", width=1)),
                         showlegend=False, hoverinfo="skip"))
text("<b>Time / h</b>", 693, 1300, size=18)
text("<b>Current density(  mA cm<sup>-2</sup>)</b>", 50, 1165, size=15, angle=-90, family=SANS)
text("1.0 M KOH", 696, 1148, size=18)
for lab, col, edge, y in [("NiFe-LDH-4\u2002\u2002OER", "#45d39b", "#16a86e", 1180),
                          ("NiFe-LDH-4\u2002\u2002HER", "#ff45ff", "#d010d0", 1205)]:
    shapes.append(dict(type="circle", xref="paper", yref="paper", x0=X(598), x1=X(608), y0=Y(y + 6), y1=Y(y - 6),
                       fillcolor=col, line=dict(color=edge, width=1)))
    text(lab, 630, y, size=18, anchor="left")

# inset HER
set_axes(10, (333, 544, 1131, 1229), [-0.4, 0.0], [-200, 3.5], xfmt=".1f", xvals=JH_XTICKS,
         yvals=JH_YTICKS, tfs=7.5, lw=1, tl=2.5)
hline(10, -10, width=1)
curve(10, seg(JH_POT, 3, JH_FRESH), JH_FRESH, GREEN, size=3.5, lw=1, grad=False)
curve(10, JH_POT, JH_CYCLED, MAGENTA, size=3.5, lw=1, grad=False)
text("HER", 450, 1181, size=8)
legend([("NiFe-LDH-4", GREEN), ("NiFe-LDH-4  After cycling", MAGENTA)], 420, 438, 441, [1191, 1202],
       size=7.5, r=1.6, lw=1)
text("<b>Current density / mA cm<sup>-2</sup></b>", 310, 1175, size=7, angle=-90)
text("<b>Potential / V vs.RHE</b>", 437, 1247, size=7.5)

# inset OER
set_axes(11, (859, 1058, 1131, 1228), [1.3, 1.6], [-50, 300], xd=0.1, xfmt=".1f", yvals=JO_YTICKS,
         tfs=7.5, lw=1, tl=2.5)
hline(11, 50, width=1)
curve(11, JO_POT_CYCLED, JO_CYCLED, MAGENTA, size=3.5, lw=1, grad=False)
curve(11, JO_POT_FRESH, JO_FRESH, GREEN, size=3.5, lw=1, grad=False)
text("OER", 915, 1148, size=8)
legend([("NiFe-LDH-4", GREEN), ("NiFe-LDH-4  After cycling", MAGENTA)], 890, 908, 911, [1158, 1168],
       size=7.5, r=1.6, lw=1)
text("<b>Current density / mA cm<sup>-2</sup></b>", 837, 1178, size=7, angle=-90)
text("<b>Potential / V vs. RHE</b>", 958, 1246, size=7.5)

# panel labels
for lab, x, y in [("(a)", 30, 24), ("(b)", 447, 24), ("(c)", 878, 27), ("(d)", 26, 372), ("(e)", 457, 368),
                  ("(f)", 887, 368), ("(g)", 35, 704), ("(h)", 457, 712), ("(i)", 893, 709), ("(j)", 27, 1030)]:
    text(lab, x, y, size=26)

fig.update_layout(template="none", width=W, height=H, margin=dict(l=0, r=0, t=0, b=0, pad=0, autoexpand=False),
                  paper_bgcolor="white", plot_bgcolor="white",
                  font=dict(family=SERIF, color="black"), showlegend=False,
                  barmode="group", bargap=0.3, bargroupgap=0,
                  polar=polar, shapes=shapes, annotations=annos, **axes)
fig.write_html("out.html", config={"displayModeBar": False},
               post_script="document.body.style.margin='0';")
